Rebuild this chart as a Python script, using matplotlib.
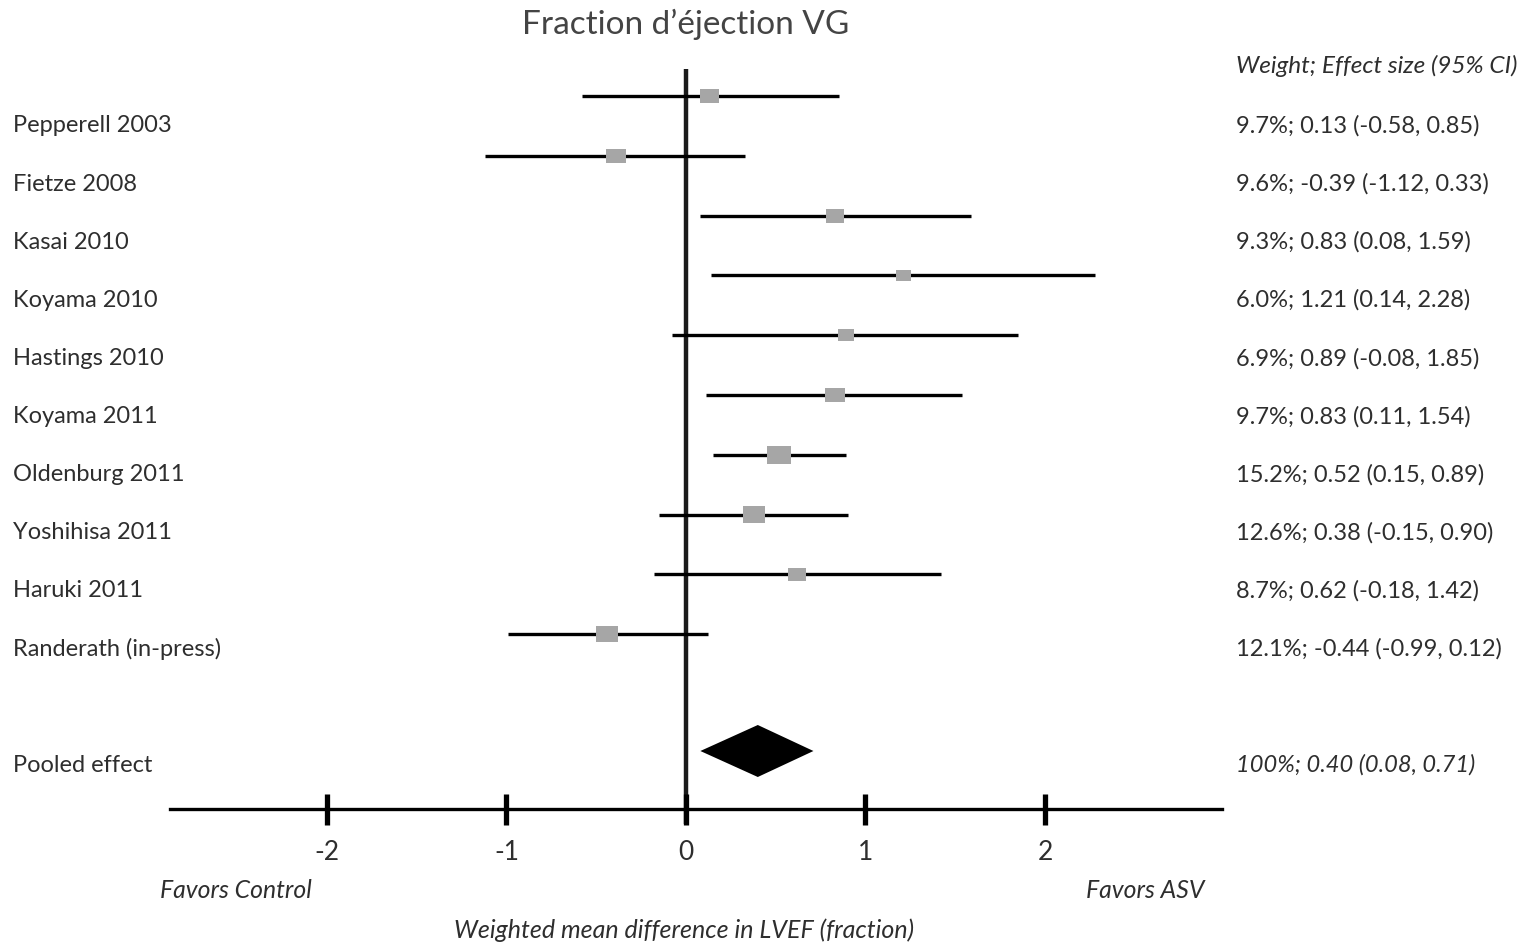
import numpy as np
import matplotlib
matplotlib.use("Agg")
import matplotlib.pyplot as plt
from matplotlib.patches import Rectangle, Polygon

plt.rcParams['font.family'] = ['Lato', 'DejaVu Sans']

# Données
etudes = ["Pepperell 2003", "Fietze 2008", "Kasai 2010", "Koyama 2010", "Hastings 2010",
          "Koyama 2011", "Oldenburg 2011", "Yoshihisa 2011", "Haruki 2011", "Randerath (in-press)"]
poids = [9.7, 9.6, 9.3, 6.0, 6.9, 9.7, 15.2, 12.6, 8.7, 12.1]
effet = [0.13, -0.39, 0.83, 1.21, 0.89, 0.83, 0.52, 0.38, 0.62, -0.44]
ic_bas = [-0.58, -1.12, 0.08, 0.14, -0.08, 0.11, 0.15, -0.15, -0.18, -0.99]
ic_haut = [0.85, 0.33, 1.59, 2.28, 1.85, 1.54, 0.89, 0.90, 1.42, 0.12]
pool = [0.40, 0.08, 0.71]
ticks = [-2, -1, 0, 1, 2]

W, H = 1529, 945
px = 179.5  # pixels par unité
x0 = 686

fig = plt.figure(figsize=(W / 100, H / 100), dpi=100)
ax = fig.add_axes([0, 0, 1, 1])
ax.set_xlim(-x0 / px, (W - x0) / px)
ax.set_ylim(H, 0)
ax.axis('off')

gris = '#2e2e2e'
tr = ax.get_yaxis_transform()  # x en fraction, y en données

ax.text(686 / W, 24, "Fraction d\u2019éjection VG", transform=tr, ha='center', va='center',
        fontsize=24, color='#444444')
ax.text(1236 / W, 66, "Weight; Effect size (95% CI)", transform=tr, ha='left', va='center',
        fontsize=17.6, style='italic', color=gris)

for i, nom in enumerate(etudes):
    yl = 97 + 59.8 * i
    yt = 126 + 58.1 * i
    ax.plot([ic_bas[i], ic_haut[i]], [yl, yl], color='black', lw=2.4, solid_capstyle='butt', zorder=3)
    w = 6.15 * np.sqrt(poids[i]) / px
    h = 4.6 * np.sqrt(poids[i])
    ax.add_patch(Rectangle((effet[i] - w / 2, yl - h / 2), w, h, facecolor='#a6a6a6',
                           edgecolor='none', zorder=4))
    ax.text(13 / W, yt, nom, transform=tr, ha='left', va='center', fontsize=17, color=gris)
    txt = "%.1f%%; %.2f (%.2f, %.2f)" % (poids[i], effet[i], ic_bas[i], ic_haut[i])
    ax.text(1236 / W, yt, txt, transform=tr, ha='left', va='center', fontsize=17, color=gris)

# effet combiné
yd = 752
ax.add_patch(Polygon([[pool[1], yd], [pool[0], yd - 26], [pool[2], yd], [pool[0], yd + 26]],
                     closed=True, facecolor='black', edgecolor='none', zorder=4))
ax.text(13 / W, 765, "Pooled effect", transform=tr, ha='left', va='center', fontsize=17, color=gris)
ax.text(1236 / W, 765, "%d%%; %.2f (%.2f, %.2f)" % (100, pool[0], pool[1], pool[2]), transform=tr,
        ha='left', va='center', fontsize=17, style='italic', color=gris)

# axe
ax.plot([0, 0], [70, 825], color='#1a1a1a', lw=3.2, solid_capstyle='butt', zorder=2)
ax.plot([(170 - x0) / px, (1222 - x0) / px], [810, 810], color='black', lw=2.4, zorder=2)
for t in ticks:
    ax.plot([t, t], [795, 826], color='black', lw=3.8, solid_capstyle='butt', zorder=3)
    ax.text(t, 853, str(t), ha='center', va='center', fontsize=19, color=gris)

ax.text(160 / W, 890, "Favors Control", transform=tr, ha='left', va='center', fontsize=17.8,
        style='italic', color=gris)
ax.text(1204 / W, 890, "Favors ASV", transform=tr, ha='right', va='center', fontsize=17.8,
        style='italic', color=gris)
ax.text(684 / W, 930, "Weighted mean difference in LVEF (fraction)", transform=tr, ha='center',
        va='center', fontsize=18, style='italic', color=gris)

fig.savefig("out.png", dpi=100)
